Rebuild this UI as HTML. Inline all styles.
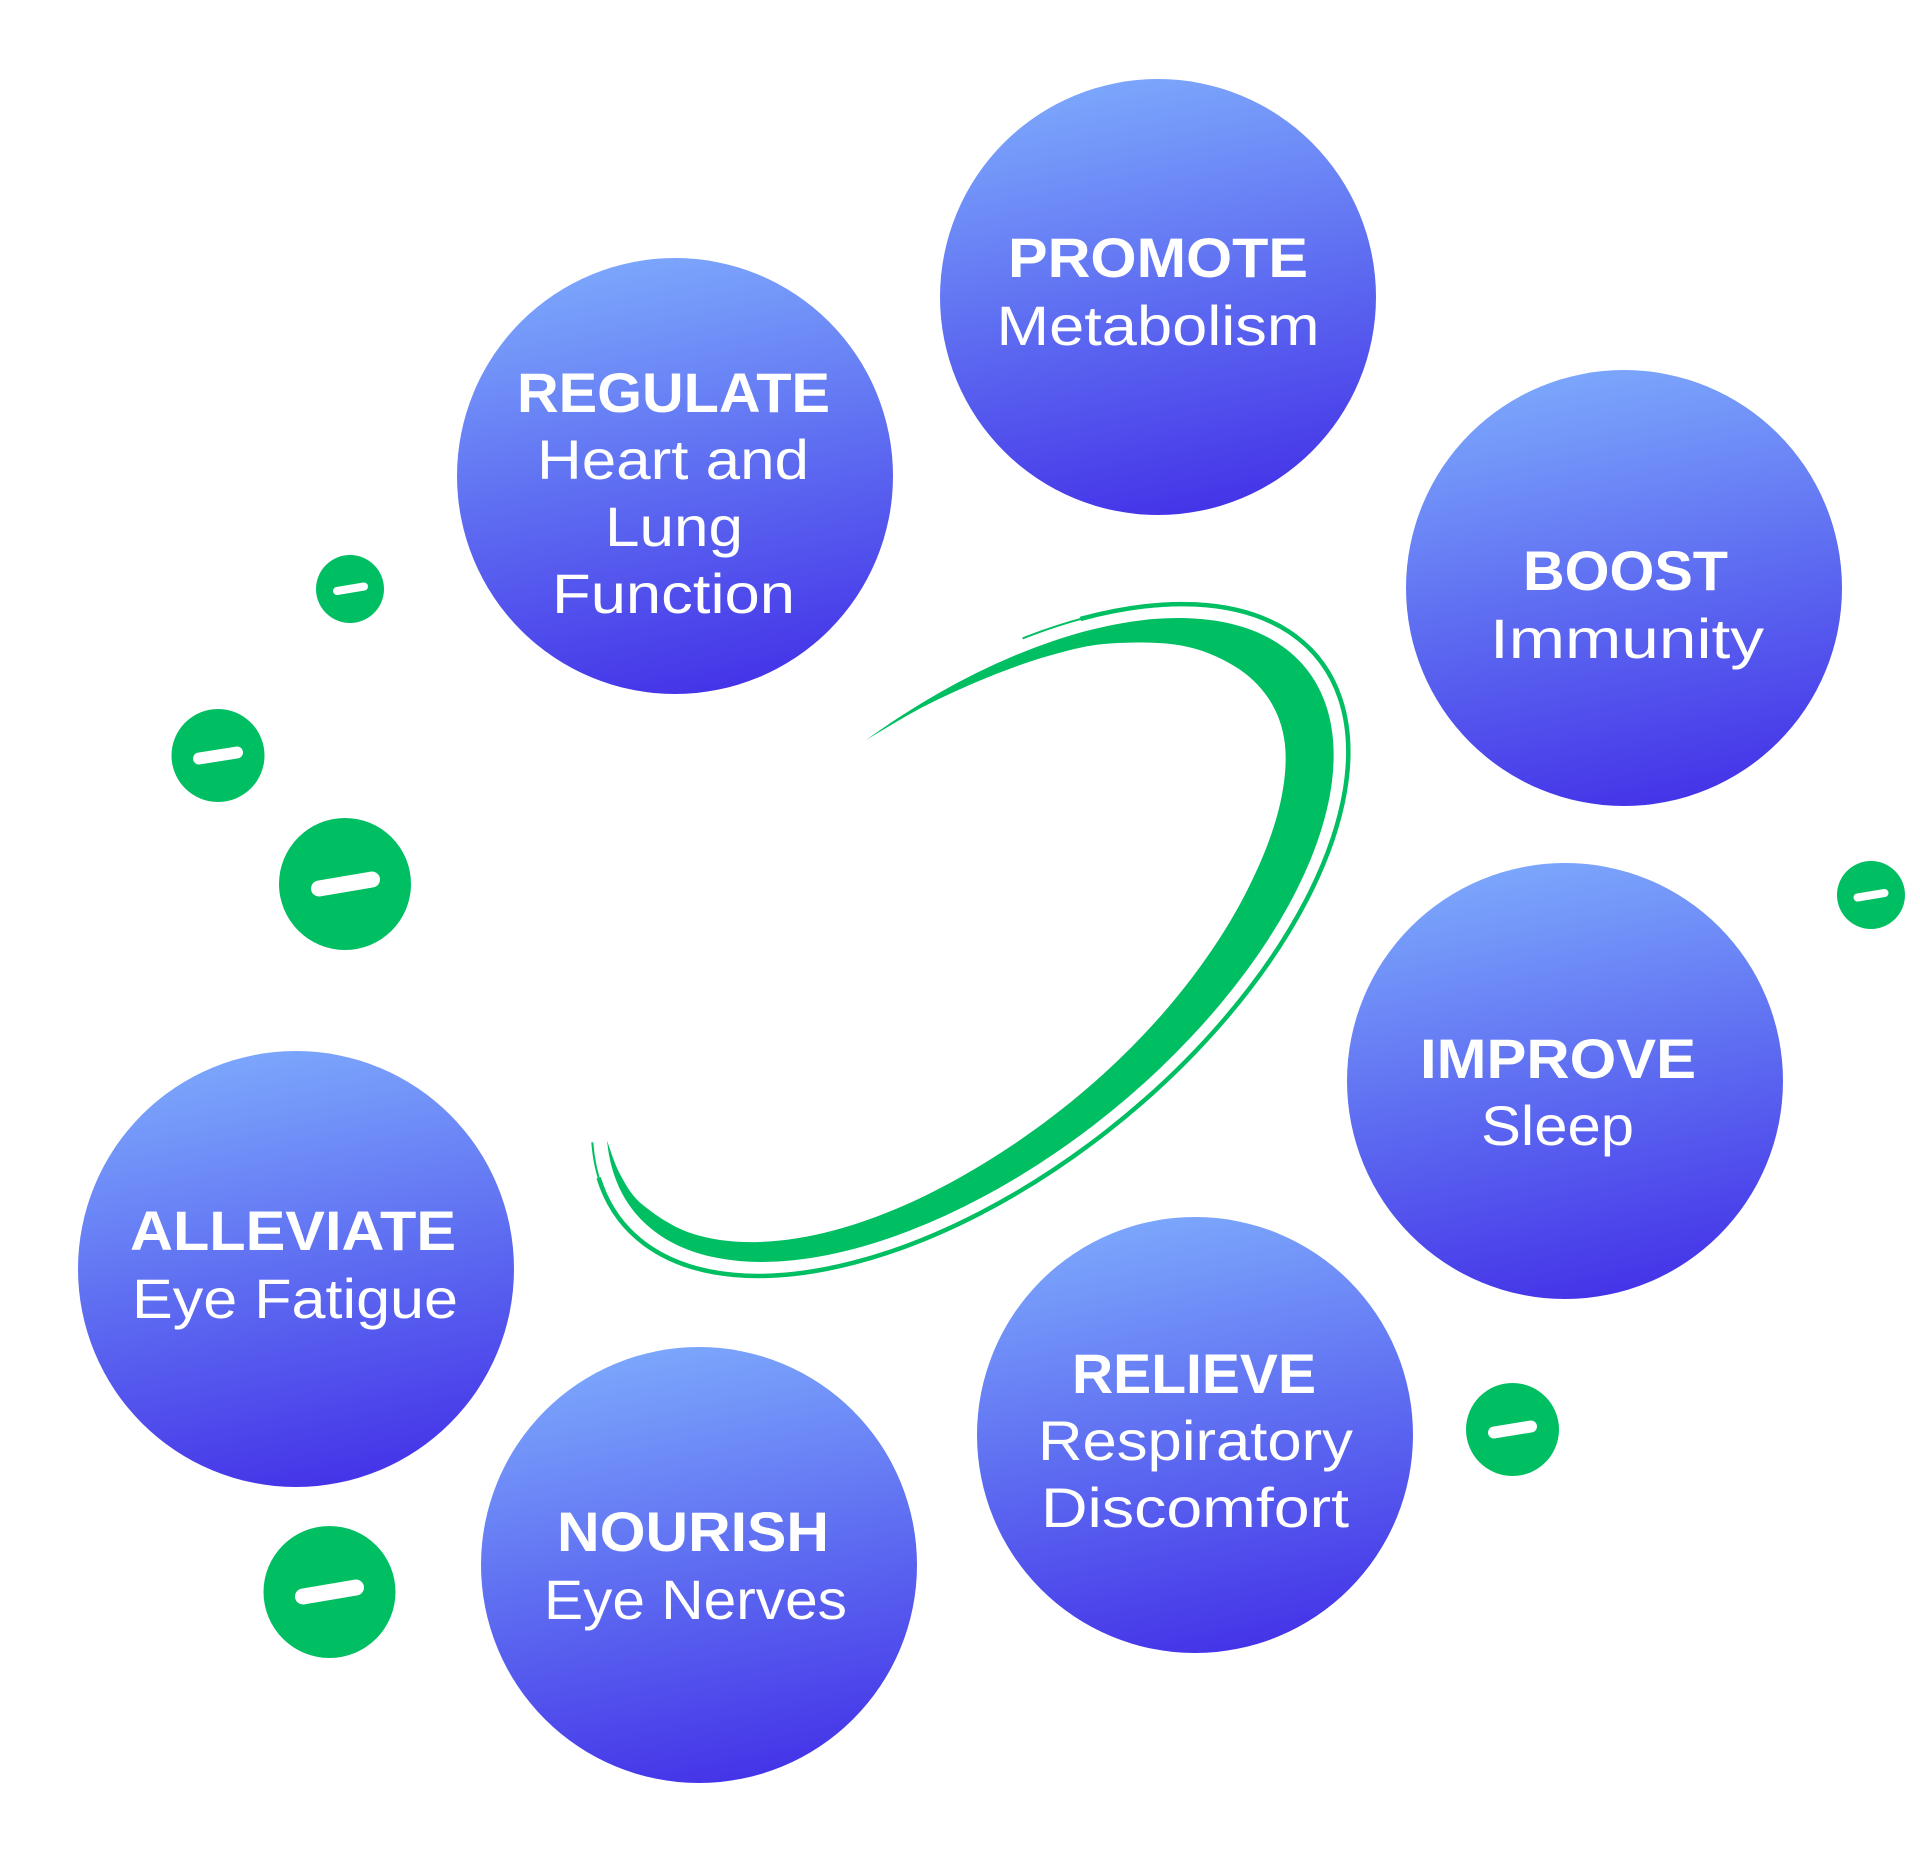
<!DOCTYPE html>
<html>
<head>
<meta charset="utf-8">
<style>
  html,body{margin:0;padding:0;background:#ffffff;}
  svg{display:block;}
  .t{font-family:"Liberation Sans",sans-serif;font-weight:700;font-size:56px;fill:#ffffff;}
  .s{font-family:"Liberation Sans",sans-serif;font-weight:400;font-size:56px;fill:#ffffff;}
</style>
</head>
<body>
<svg width="1920" height="1861" viewBox="0 0 1920 1861" xmlns="http://www.w3.org/2000/svg">
  <defs>
    <linearGradient id="g" x1="0.4" y1="0" x2="0.6" y2="1">
      <stop offset="0" stop-color="#7CA7FC"/>
      <stop offset="0.5" stop-color="#5E6DF1"/>
      <stop offset="1" stop-color="#4433E8"/>
    </linearGradient>
  </defs>
  <rect x="0" y="0" width="1920" height="1861" fill="#ffffff"/>

  <!-- Swoosh: thin outer line -->
  <path d="M 1022.6 638.4 A 448 235 -39 1 1 592.3 1142.3" fill="none" stroke="#00BE62" stroke-width="2"/>
  <path d="M 1080.5 618.9 A 448 235 -39 1 1 598.7 1177.8" fill="none" stroke="#00BE62" stroke-width="4.5"/>

  <!-- Swoosh: thick band -->
  <path fill="#00BE62" d="M 866.1 740.0 A 432 222 -39 1 1 607.1 1140.9
    C 609.3 1146.6 614.5 1164.2 620.4 1174.9
    C 626.3 1185.6 630.9 1195.1 642.8 1204.9
    C 654.7 1214.7 672.9 1227.3 691.9 1233.5
    C 710.9 1239.7 732.9 1242.6 756.6 1242.1
    C 780.3 1241.6 806.9 1237.6 833.9 1230.4
    C 860.9 1223.2 890.2 1212.2 918.9 1198.7
    C 947.6 1185.2 977.6 1168.1 1005.9 1149.5
    C 1034.2 1130.9 1062.9 1109.4 1088.9 1086.9
    C 1114.9 1064.4 1140.1 1039.4 1161.9 1014.6
    C 1183.7 989.9 1203.4 963.4 1219.6 938.4
    C 1235.8 913.4 1249.0 888.1 1259.3 864.8
    C 1269.6 841.5 1277.0 819.0 1281.2 798.6
    C 1285.4 778.2 1286.8 759.1 1284.7 742.4
    C 1282.6 725.7 1276.9 711.1 1268.4 698.3
    C 1259.9 685.6 1248.7 674.7 1234.0 665.9
    C 1219.4 657.1 1201.7 649.1 1180.5 645.4
    C 1159.3 641.7 1128.7 642.0 1106.8 643.7
    C 1084.9 645.4 1068.9 650.2 1049.0 655.8
    C 1029.1 661.4 1008.3 669.0 987.4 677.5
    C 966.5 686.0 943.8 696.2 923.6 706.6
    C 903.4 717.0 875.7 734.4 866.1 740.0 Z"/>

  <!-- Green dots -->
  <g fill="#00BE62">
    <circle cx="350" cy="589" r="34"/>
    <circle cx="218" cy="755.5" r="46.5"/>
    <circle cx="345" cy="884" r="66"/>
    <circle cx="1871" cy="895" r="34"/>
    <circle cx="1512.5" cy="1429.5" r="46.5"/>
    <circle cx="329.5" cy="1592" r="66"/>
  </g>
  <g stroke="#ffffff" stroke-linecap="round" fill="none">
    <line x1="337" y1="591" x2="364" y2="586.5" stroke-width="8"/>
    <line x1="199" y1="758.5" x2="237" y2="752.5" stroke-width="12"/>
    <line x1="319" y1="888.5" x2="372" y2="879.5" stroke-width="16"/>
    <line x1="1857.5" y1="897.5" x2="1884.5" y2="893" stroke-width="8"/>
    <line x1="1494" y1="1432.5" x2="1531" y2="1426.5" stroke-width="12"/>
    <line x1="303" y1="1596.5" x2="356" y2="1587.5" stroke-width="16"/>
  </g>

  <!-- Circles -->
  <g fill="url(#g)">
    <circle cx="1158" cy="297" r="218"/>
    <circle cx="675" cy="476" r="218"/>
    <circle cx="1624" cy="588" r="218"/>
    <circle cx="1565" cy="1081" r="218"/>
    <circle cx="296" cy="1269" r="218"/>
    <circle cx="699" cy="1565" r="218"/>
    <circle cx="1195" cy="1435" r="218"/>
  </g>

  <!-- PROMOTE -->
  <text class="t" x="1158" y="277" text-anchor="middle" textLength="300" lengthAdjust="spacingAndGlyphs">PROMOTE</text>
  <text class="s" x="1158" y="345" text-anchor="middle" textLength="323" lengthAdjust="spacingAndGlyphs">Metabolism</text>

  <!-- REGULATE -->
  <text class="t" x="673.5" y="412" text-anchor="middle" textLength="313" lengthAdjust="spacingAndGlyphs">REGULATE</text>
  <text class="s" x="673" y="479" text-anchor="middle" textLength="272" lengthAdjust="spacingAndGlyphs">Heart and</text>
  <text class="s" x="674" y="546" text-anchor="middle" textLength="138" lengthAdjust="spacingAndGlyphs">Lung</text>
  <text class="s" x="673.5" y="613" text-anchor="middle" textLength="243" lengthAdjust="spacingAndGlyphs">Function</text>

  <!-- BOOST -->
  <text class="t" x="1625.5" y="590" text-anchor="middle" textLength="205" lengthAdjust="spacingAndGlyphs">BOOST</text>
  <text class="s" x="1627" y="658" text-anchor="middle" textLength="274" lengthAdjust="spacingAndGlyphs">Immunity</text>

  <!-- IMPROVE -->
  <text class="t" x="1558" y="1078" text-anchor="middle" textLength="276" lengthAdjust="spacingAndGlyphs">IMPROVE</text>
  <text class="s" x="1557.5" y="1145" text-anchor="middle" textLength="153" lengthAdjust="spacingAndGlyphs">Sleep</text>

  <!-- ALLEVIATE -->
  <text class="t" x="293" y="1250" text-anchor="middle" textLength="326" lengthAdjust="spacingAndGlyphs">ALLEVIATE</text>
  <text class="s" x="295" y="1318" text-anchor="middle" textLength="326" lengthAdjust="spacingAndGlyphs">Eye Fatigue</text>

  <!-- NOURISH -->
  <text class="t" x="693" y="1551" text-anchor="middle" textLength="272" lengthAdjust="spacingAndGlyphs">NOURISH</text>
  <text class="s" x="695.5" y="1619" text-anchor="middle" textLength="303" lengthAdjust="spacingAndGlyphs">Eye Nerves</text>

  <!-- RELIEVE -->
  <text class="t" x="1194" y="1393" text-anchor="middle" textLength="244" lengthAdjust="spacingAndGlyphs">RELIEVE</text>
  <text class="s" x="1195.5" y="1460" text-anchor="middle" textLength="315" lengthAdjust="spacingAndGlyphs">Respiratory</text>
  <text class="s" x="1195" y="1527" text-anchor="middle" textLength="308" lengthAdjust="spacingAndGlyphs">Discomfort</text>
</svg>
</body>
</html>
